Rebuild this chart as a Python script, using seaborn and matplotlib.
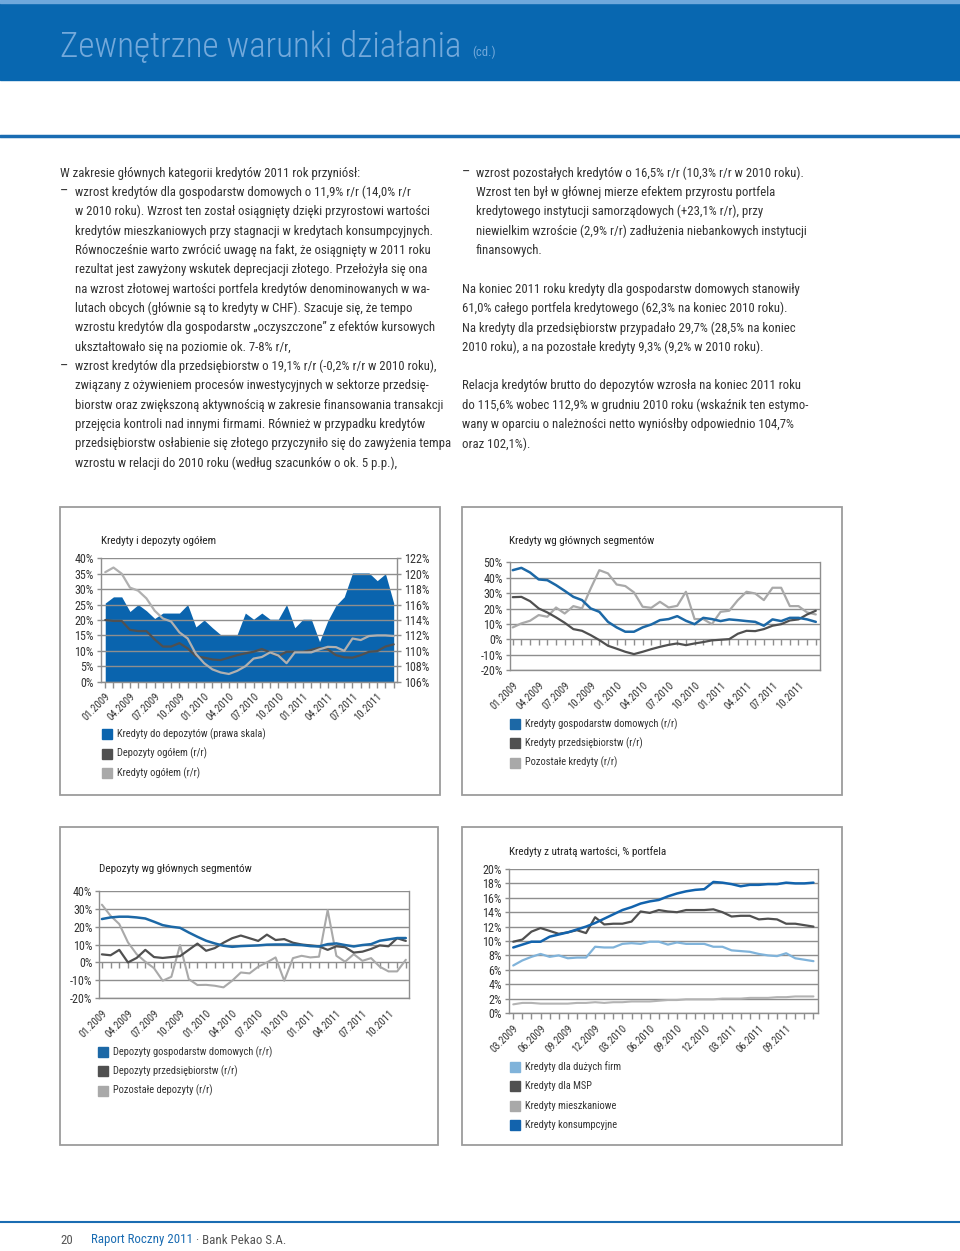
import numpy as np
import pandas as pd
import matplotlib
matplotlib.use("Agg")
import matplotlib.pyplot as plt
from matplotlib.patches import Rectangle
from matplotlib.lines import Line2D
import seaborn as sns

# ---- data -------------------------------------------------------------
labels_36 = ["01.2009", "04.2009", "07.2009", "10.2009", "01.2010", "04.2010",
             "07.2010", "10.2010", "01.2011", "04.2011", "07.2011", "10.2011"]
labels_34 = ["03.2009", "06.2009", "09.2009", "12.2009", "03.2010", "06.2010",
             "09.2010", "12.2010", "03.2011", "06.2011", "09.2011"]

# Kredyty i depozyty ogółem
loans_to_deposits = [116.2, 117.0, 117.0, 115.1, 116.0, 115.2, 114.2, 114.9, 114.9, 114.9,
                     116.0, 113.1, 114.0, 113.0, 112.1, 112.1, 112.1, 114.9, 114.1, 114.9,
                     114.1, 114.1, 116.0, 113.0, 114.1, 114.1, 111.2, 113.9, 115.9, 117.0,
                     120.1, 120.1, 120.1, 119.1, 120.0, 116.2]
deposits_total = [20.0, 19.7, 19.7, 16.8, 16.4, 16.4, 13.7, 11.4, 11.4, 12.5,
                  10.8, 8.3, 7.8, 7.2, 7.0, 7.8, 8.6, 9.2, 9.7, 10.6,
                  9.5, 8.3, 9.7, 9.7, 9.7, 10.3, 11.0, 10.5, 8.6, 7.9,
                  7.8, 8.6, 9.7, 9.9, 11.4, 12.1]
loans_total = [35.5, 37.0, 35.0, 30.5, 29.5, 27.0, 23.0, 20.5, 19.5, 16.0,
               14.0, 9.0, 6.0, 4.0, 3.0, 2.5, 3.5, 5.0, 7.5, 8.0,
               9.5, 8.5, 6.0, 9.5, 9.5, 9.5, 10.5, 11.3, 11.2, 10.0,
               14.0, 13.5, 14.8, 15.0, 15.0, 14.8]

# Kredyty wg głównych segmentów
loans_households = [44.9, 46.4, 43.4, 38.9, 38.4, 35.2, 31.5, 27.6, 25.5, 20.1,
                    17.9, 11.4, 7.8, 5.0, 5.0, 7.8, 9.7, 12.5, 13.2, 15.1,
                    12.1, 9.9, 14.0, 13.2, 11.9, 13.0, 12.5, 11.9, 11.4, 8.9,
                    13.0, 11.9, 14.0, 14.0, 13.0, 11.4]
loans_corporates = [27.4, 27.6, 24.8, 20.1, 17.5, 14.3, 10.8, 6.7, 5.6, 2.8,
                    -0.4, -4.1, -6.0, -8.0, -9.5, -8.0, -6.3, -4.8, -3.5, -2.6,
                    -3.7, -2.6, -1.7, -0.6, -0.2, 0.2, 3.7, 5.6, 5.4, 6.7,
                    8.9, 9.9, 12.3, 13.0, 16.2, 18.6]
loans_other = [7.8, 10.4, 12.1, 15.8, 14.7, 20.7, 16.8, 21.6, 20.1, 33.0,
               44.9, 42.8, 35.6, 34.6, 30.5, 21.2, 20.5, 24.4, 20.7, 21.8,
               30.9, 13.2, 13.2, 9.9, 17.9, 18.6, 25.5, 30.9, 29.8, 25.5,
               33.5, 33.5, 21.6, 21.6, 17.5, 16.2]

# Depozyty wg głównych segmentów
dep_households = [24.2, 25.1, 25.5, 25.5, 25.1, 24.5, 22.7, 20.8, 19.9, 19.3,
                  16.7, 14.3, 12.1, 10.6, 9.3, 8.7, 9.1, 9.3, 9.5, 9.9,
                  10.0, 10.0, 9.9, 9.7, 9.1, 8.9, 10.2, 10.6, 9.7, 8.9,
                  9.7, 10.2, 12.1, 12.8, 13.6, 13.6]
dep_corporates = [4.5, 4.0, 7.0, 0.0, 2.5, 7.0, 3.0, 2.5, 3.0, 3.5,
                  7.0, 10.5, 6.5, 8.0, 11.0, 13.5, 15.0, 13.5, 12.0, 15.5,
                  12.5, 13.0, 11.0, 10.0, 9.5, 9.0, 7.0, 9.0, 8.5, 5.5,
                  6.0, 7.5, 9.5, 9.0, 13.5, 12.0]
dep_other = [32.2, 26.0, 21.4, 11.2, 4.6, 0.4, -3.2, -10.2, -8.0, 9.7,
             -9.3, -12.6, -12.5, -13.0, -13.9, -10.2, -5.6, -6.1, -2.4, 0.0,
             2.8, -10.2, 2.4, 3.7, 2.8, 3.2, 29.2, 3.7, 0.4, 4.6,
             0.9, 2.4, -2.4, -5.0, -5.0, 1.5]

# Kredyty z utratą wartości, % portfela
imp_large = [6.6, 7.3, 7.8, 8.2, 7.8, 8.0, 7.6, 7.7, 7.7, 9.2,
             9.1, 9.1, 9.6, 9.7, 9.6, 9.9, 9.9, 9.5, 9.8, 9.6,
             9.6, 9.6, 9.2, 9.2, 8.7, 8.6, 8.5, 8.2, 8.0, 7.9,
             8.3, 7.6, 7.4, 7.2]
imp_sme = [9.9, 10.2, 11.3, 11.8, 11.4, 11.0, 11.2, 11.5, 11.1, 13.3,
           12.3, 12.4, 12.4, 12.7, 14.1, 13.9, 14.3, 14.1, 14.0, 14.3,
           14.3, 14.3, 14.4, 14.0, 13.4, 13.5, 13.5, 13.0, 13.1, 13.0,
           12.4, 12.4, 12.2, 12.0]
imp_mortgage = [1.2, 1.4, 1.4, 1.3, 1.3, 1.3, 1.3, 1.4, 1.4, 1.5,
                1.4, 1.5, 1.5, 1.6, 1.6, 1.6, 1.7, 1.8, 1.8, 1.9,
                1.9, 1.9, 1.9, 2.0, 2.0, 2.0, 2.1, 2.1, 2.1, 2.2,
                2.2, 2.3, 2.3, 2.3]
imp_consumer = [9.1, 9.5, 9.9, 9.9, 10.6, 10.9, 11.2, 11.6, 12.0, 12.5,
                13.1, 13.7, 14.3, 14.7, 15.2, 15.5, 15.7, 16.2, 16.6, 16.9,
                17.1, 17.2, 18.2, 18.1, 17.9, 17.6, 17.8, 17.8, 17.9, 17.9,
                18.1, 18.0, 18.0, 18.1]

# ---- style ------------------------------------------------------------
BLUE = "#0a64ae"
LBLUE = "#80b3da"
DARK = "#505050"
LGREY = "#a9a9a9"
GRID = "#8e8e8e"
TXT = "#333333"
FAMILY = ["Roboto Condensed", "Open Sans", "DejaVu Sans"]

sns.set_theme(style="white")
plt.rcParams["font.family"] = FAMILY
plt.rcParams["font.stretch"] = "condensed"

W, H = 960, 1251
fig = plt.figure(figsize=(W / 100, H / 100), dpi=100)
renderer = fig.canvas.get_renderer()


def fit_size(s, width_px):
    # font size that makes `s` about width_px wide in the condensed face
    t = fig.text(0, 0, s, fontsize=10)
    w = t.get_window_extent(renderer).width
    t.remove()
    return 10 * width_px / w


BODY = fit_size("w 2010 roku). Wzrost ten został osiągnięty dzięki przyrostowi wartości", 352)
LEG = fit_size("Kredyty do depozytów (prawa skala)", 148)
TITLE = fit_size("Kredyty i depozyty ogółem", 114)
YT = fit_size("122%", 25)
XT = fit_size("01.2009", 34)
HEAD = fit_size("Zewnętrzne warunki działania", 407)
FOOT = fit_size("Raport Roczny 2011", 101)


def fx(x):
    return x / W


def fy(y):
    return 1 - y / H


def add_axes_px(x0, y0, x1, y1):
    return fig.add_axes([fx(x0), fy(y1), (x1 - x0) / W, (y1 - y0) / H])


def style_axes(ax, xlim, ylim, yticks, n, label_pos, labels):
    ax.set_xlim(*xlim)
    ax.set_ylim(*ylim)
    ax.set_yticks(yticks)
    ax.set_yticklabels([f"{t}%" for t in yticks], fontsize=YT, color=TXT)
    ax.grid(False)
    ax.yaxis.grid(True, color=GRID, lw=1.0)
    ax.set_xticks(label_pos)
    ax.set_xticklabels(labels, rotation=45, ha="right", rotation_mode="anchor",
                       fontsize=XT, color=TXT)
    ax.tick_params(axis="x", length=0, pad=7)
    ax.tick_params(axis="y", length=3, color=GRID, width=1, pad=2, left=True)
    for side in ["left", "right", "bottom"]:
        ax.spines[side].set_visible(True)
        ax.spines[side].set_color(GRID)
        ax.spines[side].set_linewidth(1.0)
    ax.spines["top"].set_visible(False)
    ax.set_xlabel("")
    ax.set_ylabel("")
    zero = (0 - ylim[0]) / (ylim[1] - ylim[0])
    sec = ax.secondary_xaxis(zero)
    sec.set_xticks(np.arange(n))
    sec.set_xticklabels([])
    sec.tick_params(length=4, color=GRID, width=1)
    for s in sec.spines.values():
        s.set_visible(False)


def legend_px(x, y, items, spacing):
    for i, (col, lab) in enumerate(items):
        yy = y + i * spacing
        fig.patches.append(Rectangle((fx(x), fy(yy + 5)), 10 / W, 10 / H,
                                     transform=fig.transFigure, color=col))
        fig.text(fx(x + 15), fy(yy), lab, fontsize=LEG, color=TXT, va="center")


def box_px(x0, y0, x1, y1):
    fig.patches.append(Rectangle((fx(x0), fy(y1)), (x1 - x0) / W, (y1 - y0) / H,
                                 transform=fig.transFigure, fill=False,
                                 edgecolor="#9c9c9c", lw=1.3))


# ---- header -----------------------------------------------------------
fig.patches.append(Rectangle((0, fy(80)), 1, 77 / H, transform=fig.transFigure,
                             color="#0867b0"))
fig.patches.append(Rectangle((0, fy(3)), 1, 3 / H, transform=fig.transFigure,
                             color="#6fa8dc"))
fig.text(fx(60), fy(57), "Zewnętrzne warunki działania", fontsize=HEAD,
         color="#73a9db", va="baseline", weight="light")
fig.text(fx(472), fy(56), "(cd.)", fontsize=HEAD * 0.36, color="#73a9db", va="baseline")
fig.add_artist(Line2D([0, 1], [fy(136), fy(136)], color="#1a6cb2", lw=2.5))

# ---- body text --------------------------------------------------------
left_lines = [
    (60, "W zakresie głównych kategorii kredytów 2011 rok przyniósł:"),
    (60, "–"), (75, "wzrost kredytów dla gospodarstw domowych o 11,9% r/r (14,0% r/r"),
    (75, "w 2010 roku). Wzrost ten został osiągnięty dzięki przyrostowi wartości"),
    (75, "kredytów mieszkaniowych przy stagnacji w kredytach konsumpcyjnych."),
    (75, "Równocześnie warto zwrócić uwagę na fakt, że osiągnięty w 2011 roku"),
    (75, "rezultat jest zawyżony wskutek deprecjacji złotego. Przełożyła się ona"),
    (75, "na wzrost złotowej wartości portfela kredytów denominowanych w wa-"),
    (75, "lutach obcych (głównie są to kredyty w CHF). Szacuje się, że tempo"),
    (75, "wzrostu kredytów dla gospodarstw „oczyszczone” z efektów kursowych"),
    (75, "ukształtowało się na poziomie ok. 7-8% r/r,"),
    (60, "–"), (75, "wzrost kredytów dla przedsiębiorstw o 19,1% r/r (-0,2% r/r w 2010 roku),"),
    (75, "związany z ożywieniem procesów inwestycyjnych w sektorze przedsię-"),
    (75, "biorstw oraz zwiększoną aktywnością w zakresie finansowania transakcji"),
    (75, "przejęcia kontroli nad innymi firmami. Również w przypadku kredytów"),
    (75, "przedsiębiorstw osłabienie się złotego przyczyniło się do zawyżenia tempa"),
    (75, "wzrostu w relacji do 2010 roku (według szacunków o ok. 5 p.p.),"),
]
right_lines = [
    (462, "–"), (476, "wzrost pozostałych kredytów o 16,5% r/r (10,3% r/r w 2010 roku)."),
    (476, "Wzrost ten był w głównej mierze efektem przyrostu portfela"),
    (476, "kredytowego instytucji samorządowych (+23,1% r/r), przy"),
    (476, "niewielkim wzroście (2,9% r/r) zadłużenia niebankowych instytucji"),
    (476, "finansowych."),
    (462, ""),
    (462, "Na koniec 2011 roku kredyty dla gospodarstw domowych stanowiły"),
    (462, "61,0% całego portfela kredytowego (62,3% na koniec 2010 roku)."),
    (462, "Na kredyty dla przedsiębiorstw przypadało 29,7% (28,5% na koniec"),
    (462, "2010 roku), a na pozostałe kredyty 9,3% (9,2% w 2010 roku)."),
    (462, ""),
    (462, "Relacja kredytów brutto do depozytów wzrosła na koniec 2011 roku"),
    (462, "do 115,6% wobec 112,9% w grudniu 2010 roku (wskaźnik ten estymo-"),
    (462, "wany w oparciu o należności netto wyniósłby odpowiednio 104,7%"),
    (462, "oraz 102,1%)."),
]


def draw_column(lines, y0):
    y = y0
    for x, s in lines:
        if s == "–":
            fig.text(fx(x), fy(y), s, fontsize=BODY * 1.15, color=TXT, va="center")
            continue
        if s:
            fig.text(fx(x), fy(y), s, fontsize=BODY, color=TXT, va="center")
        y += 19.35


draw_column(left_lines, 173)
draw_column(right_lines, 173)

# ---- chart boxes ------------------------------------------------------
box_px(60, 507, 440, 795)
box_px(462, 507, 842, 795)
box_px(60, 827, 438, 1145)
box_px(462, 827, 842, 1145)

idx36 = np.arange(36)
idx34 = np.arange(34)
pos36 = np.arange(0, 34, 3)
pos34 = np.arange(0, 31, 3)

# ---- chart 1: Kredyty i depozyty ogółem -------------------------------
df1 = pd.DataFrame({"m": idx36, "ratio": loans_to_deposits,
                    "dep": deposits_total, "loans": loans_total})
ax1 = add_axes_px(100.7, 558.3, 397, 681.7)
ax1r = ax1.twinx()
ax1r.fill_between(df1["m"], 106, df1["ratio"], color=BLUE, lw=0)
ax1r.set_ylim(106, 122)
ax1r.set_yticks(np.arange(106, 123, 2))
ax1r.set_yticklabels([f"{t}%" for t in range(106, 123, 2)], fontsize=YT, color=TXT)
ax1r.tick_params(axis="y", length=3, color=GRID, width=1, pad=2, right=True)
ax1r.grid(False)
for s in ax1r.spines.values():
    s.set_visible(False)
ax1.set_zorder(ax1r.get_zorder() + 1)
ax1.patch.set_visible(False)
sns.lineplot(data=df1, x="m", y="dep", ax=ax1, color=DARK, lw=1.6, legend=False)
sns.lineplot(data=df1, x="m", y="loans", ax=ax1, color="#b0b0b0", lw=1.6, legend=False)
style_axes(ax1, (-0.55, 35.4), (0, 40), list(range(0, 41, 5)), 36, pos36, labels_36)
fig.text(fx(101), fy(541), "Kredyty i depozyty ogółem", fontsize=TITLE, color="#222222", va="center")
legend_px(102, 734, [(BLUE, "Kredyty do depozytów (prawa skala)"),
                     (DARK, "Depozyty ogółem (r/r)"),
                     (LGREY, "Kredyty ogółem (r/r)")], 19.5)

# ---- chart 2: Kredyty wg głównych segmentów ---------------------------
df2 = pd.DataFrame({"m": idx36, "hh": loans_households,
                    "corp": loans_corporates, "other": loans_other})
ax2 = add_axes_px(509.7, 562.3, 819.7, 670.3)
sns.lineplot(data=df2, x="m", y="other", ax=ax2, color=LGREY, lw=1.6, legend=False)
sns.lineplot(data=df2, x="m", y="corp", ax=ax2, color=DARK, lw=1.6, legend=False)
sns.lineplot(data=df2, x="m", y="hh", ax=ax2, color="#1c68a6", lw=1.8, legend=False)
style_axes(ax2, (-0.35, 35.45), (-20, 50), list(range(-20, 51, 10)), 36, pos36, labels_36)
fig.text(fx(509), fy(541), "Kredyty wg głównych segmentów", fontsize=TITLE, color="#222222", va="center")
legend_px(510, 724, [("#1c68a6", "Kredyty gospodarstw domowych (r/r)"),
                     (DARK, "Kredyty przedsiębiorstw (r/r)"),
                     (LGREY, "Pozostałe kredyty (r/r)")], 19.3)

# ---- chart 3: Depozyty wg głównych segmentów --------------------------
df3 = pd.DataFrame({"m": idx36, "hh": dep_households,
                    "corp": dep_corporates, "other": dep_other})
ax3 = add_axes_px(99.3, 890.7, 409.3, 998.3)
sns.lineplot(data=df3, x="m", y="other", ax=ax3, color=LGREY, lw=1.5, legend=False)
sns.lineplot(data=df3, x="m", y="corp", ax=ax3, color=DARK, lw=1.6, legend=False)
sns.lineplot(data=df3, x="m", y="hh", ax=ax3, color="#1c68a6", lw=1.8, legend=False)
style_axes(ax3, (-0.3, 35.4), (-20, 40), list(range(-20, 41, 10)), 36, pos36, labels_36)
fig.text(fx(99), fy(869), "Depozyty wg głównych segmentów", fontsize=TITLE, color="#222222", va="center")
legend_px(98, 1052, [("#1c68a6", "Depozyty gospodarstw domowych (r/r)"),
                     (DARK, "Depozyty przedsiębiorstw (r/r)"),
                     (LGREY, "Pozostałe depozyty (r/r)")], 19.3)

# ---- chart 4: Kredyty z utratą wartości -------------------------------
df4 = pd.DataFrame({"m": idx34, "large": imp_large, "sme": imp_sme,
                    "mort": imp_mortgage, "cons": imp_consumer})
ax4 = add_axes_px(508.7, 869, 818, 1013)
sns.lineplot(data=df4, x="m", y="mort", ax=ax4, color="#b3b3b3", lw=1.5, legend=False)
sns.lineplot(data=df4, x="m", y="large", ax=ax4, color=LBLUE, lw=1.6, legend=False)
sns.lineplot(data=df4, x="m", y="sme", ax=ax4, color=DARK, lw=1.6, legend=False)
sns.lineplot(data=df4, x="m", y="cons", ax=ax4, color="#1263ad", lw=1.8, legend=False)
style_axes(ax4, (-0.5, 33.5), (0, 20), list(range(0, 21, 2)), 34, pos34, labels_34)
fig.text(fx(509), fy(852), "Kredyty z utratą wartości, % portfela", fontsize=TITLE, color="#222222", va="center")
legend_px(510, 1067, [(LBLUE, "Kredyty dla dużych firm"),
                      (DARK, "Kredyty dla MSP"),
                      (LGREY, "Kredyty mieszkaniowe"),
                      ("#1263ad", "Kredyty konsumpcyjne")], 19.3)

# ---- footer -----------------------------------------------------------
fig.add_artist(Line2D([0, 1], [fy(1222), fy(1222)], color="#1a6cb2", lw=1.5))
fig.text(fx(60), fy(1240), "20", fontsize=FOOT, color="#555555", va="center")
fig.text(fx(91), fy(1240), "Raport Roczny 2011", fontsize=FOOT, color="#1a6cb2", va="center")
fig.text(fx(196), fy(1240), "· Bank Pekao S.A.", fontsize=FOOT, color="#555555", va="center")

fig.savefig("out.png", dpi=100)
